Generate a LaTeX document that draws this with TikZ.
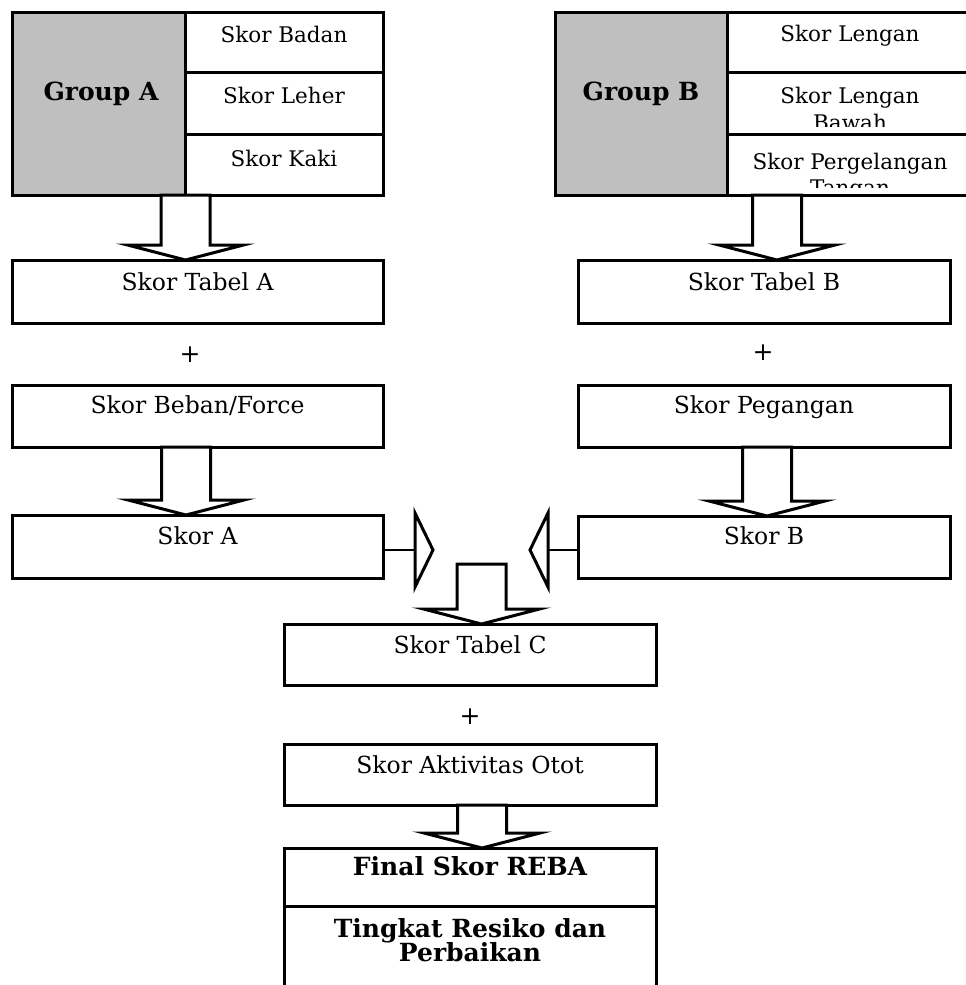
\documentclass[tikz,border=0pt]{standalone}
\usepackage{fontspec}
\setmainfont{DejaVu Serif}
\usetikzlibrary{calc}
\definecolor{grp}{RGB}{191,191,191}
\tikzset{
  box/.style={draw=black, line width=3pt, fill=white, rectangle, outer sep=0pt, inner sep=0pt},
  grpbox/.style={box, fill=grp},
  lbl/.style={anchor=base, font=\fontsize{23.5}{26}\selectfont, inner sep=0pt},
  rlbl/.style={anchor=base, font=\fontsize{21.5}{24}\selectfont, inner sep=0pt},
  blbl/.style={anchor=base, font=\fontsize{25}{28}\selectfont\bfseries, inner sep=0pt},
  plus/.style={font=\fontsize{25}{26}\selectfont, inner sep=0pt},
  barrow/.style={draw=black, line width=3pt, fill=white, line join=miter},
  conn/.style={draw=black, line width=2.4pt},
}
% vertical block arrow: centre x, source, target
\newcommand\varrow[3]{%
  \path let \p1=#2, \p2=#3 in [barrow]
    ({(#1-24.5)*1pt},\y1) -- ({(#1-24.5)*1pt},{\y2+15pt}) --
    ({(#1-58)*1pt},{\y2+15pt}) -- ({#1*1pt},\y2) --
    ({(#1+58)*1pt},{\y2+15pt}) -- ({(#1+24.5)*1pt},{\y2+15pt}) --
    ({(#1+24.5)*1pt},\y1) -- cycle;}
\begin{document}
\begin{tikzpicture}[x=1pt,y=-1pt]
\path[use as bounding box, fill=white] (0,0) rectangle (966,985);

% ---------- Group A ----------
\node[grpbox, minimum width=173, minimum height=183] (gA) at (98.5,103.5) {};
\node[box, minimum width=198, minimum height=60] (a1) at (284,42) {};
\node[box, minimum width=198, minimum height=62] (a2) at (284,103) {};
\node[box, minimum width=198, minimum height=61] (a3) at (284,164.5) {};
\node[blbl] (gAt) at (101,100) {Group A};
\node[rlbl] (a1t) at ([yshift=-30pt]a1.north) {Skor Badan};
\node[rlbl] (a2t) at ([yshift=-31pt]a2.north) {Skor Leher};
\node[rlbl] (a3t) at ([yshift=-32pt]a3.north) {Skor Kaki};

% ---------- Group B ----------
\node[grpbox, minimum width=172, minimum height=183] (gB) at (641,103.5) {};
\node[box, minimum width=246, minimum height=60] (b1) at (850,42) {};
\node[box, minimum width=246, minimum height=62] (b2) at (850,103) {};
\node[box, minimum width=246, minimum height=61] (b3) at (850,164.5) {};
\node[blbl] (gBt) at (641,100) {Group B};
\node[rlbl] (b1t) at ([yshift=-29pt]b1.north) {Skor Lengan};
\begin{scope}
  \clip (727,74) rectangle (973,126);
  \node[rlbl] (b2t) at (850,103) {Skor Lengan};
  \node[rlbl] (b2u) at (850,130) {Bawah};
\end{scope}
\begin{scope}
  \clip (727,136) rectangle (973,187);
  \node[rlbl] (b3t) at (850,169) {Skor Pergelangan};
  \node[rlbl] (b3u) at (850,195) {Tangan};
\end{scope}

% ---------- left column ----------
\node[box, minimum width=371, minimum height=63] (ta) at (197.5,291.5) {};
\node[lbl] (tat) at ([yshift=-30pt]ta.north) {Skor Tabel A};
\node[plus] (pa) at (190,355) {+};
\node[box, minimum width=371, minimum height=62] (fa) at (197.5,416) {};
\node[lbl] (fat) at ([yshift=-28pt]fa.north) {Skor Beban/Force};
\node[box, minimum width=371, minimum height=63] (sa) at (197.5,546.5) {};
\node[lbl] (sat) at ([yshift=-29pt]sa.north) {Skor A};

% ---------- right column ----------
\node[box, minimum width=372, minimum height=63] (tb) at (764,291.5) {};
\node[lbl] (tbt) at ([yshift=-30pt]tb.north) {Skor Tabel B};
\node[plus] (pb2) at (763,353) {+};
\node[box, minimum width=372, minimum height=62] (pb) at (764,416) {};
\node[lbl] (pbt) at ([yshift=-28pt]pb.north) {Skor Pegangan};
\node[box, minimum width=372, minimum height=62] (sb) at (764,547) {};
\node[lbl] (sbt) at ([yshift=-28pt]sb.north) {Skor B};

% ---------- centre column ----------
\node[box, minimum width=372, minimum height=61] (tc) at (470,654.5) {};
\node[lbl] (tct) at ([yshift=-29pt]tc.north) {Skor Tabel C};
\node[plus] (pc) at (470,717) {+};
\node[box, minimum width=372, minimum height=61] (ao) at (470,774.5) {};
\node[lbl] (aot) at ([yshift=-29pt]ao.north) {Skor Aktivitas Otot};
\node[box, minimum width=372, minimum height=58] (fr) at (470,877) {};
\node[blbl] (frt) at ([yshift=-27pt]fr.north) {Final Skor REBA};
\node[box, minimum width=372, minimum height=94] (rk) at (470,953) {};
\node[blbl] (rkt) at (470,937) {Tingkat Resiko dan};
\node[blbl] (rku) at (470,961) {Perbaikan};

% ---------- block arrows ----------
\varrow{185.5}{(gA.south)}{(ta.north)}
\varrow{186}{(fa.south)}{(sa.north)}
\varrow{777}{(gB.south)}{(tb.north)}
\varrow{767}{(pb.south)}{(sb.north)}
\coordinate (cA) at (481.5,564);
\varrow{481.5}{(cA)}{(tc.north)}
\varrow{482}{(ao.south)}{(fr.north)}

% ---------- side connectors ----------
\coordinate (la) at (415,550);
\draw[conn] (sa.east |- la) -- (la);
\path[barrow] (415,513) -- (433,550) -- (415,587) -- cycle;
\coordinate (rb) at (548,550);
\draw[conn] (sb.west |- rb) -- (rb);
\path[barrow] (548,513) -- (530,550) -- (548,587) -- cycle;
\end{tikzpicture}
\end{document}
